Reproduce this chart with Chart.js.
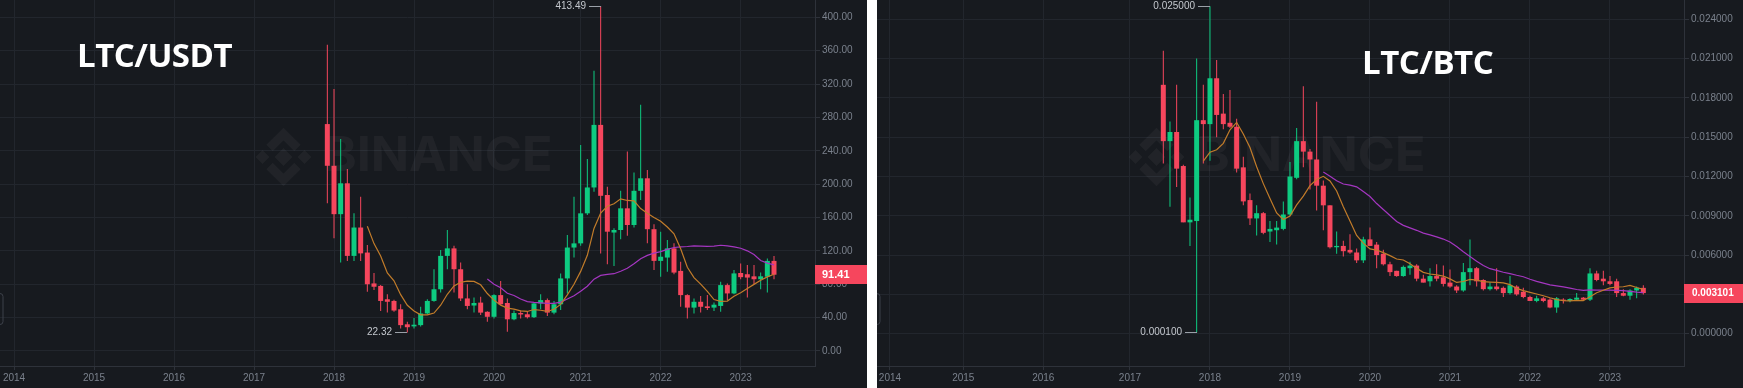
<!DOCTYPE html>
<html>
<head>
<meta charset="utf-8">
<script src="https://cdn.jsdelivr.net/npm/chart.js@4.4.0/dist/chart.umd.min.js"></script>
<style>
  body { margin: 0; background: #fff; width: 1743px; height: 388px; overflow: hidden; position: relative; }
  .panel { position: absolute; top: 0; height: 388px; background: #171a1f; }
  #p1 { left: 0; width: 867px; }
  #p2 { left: 877px; width: 866px; }
  .title { position: absolute; color: #fff; font: bold 33px "Open Sans", sans-serif; line-height: 33px; letter-spacing: -0.5px; white-space: nowrap; }
</style>
</head>
<body>
<div class="panel" id="p1"><canvas id="c1" width="867" height="388"></canvas></div>
<div class="panel" id="p2"><canvas id="c2" width="866" height="388"></canvas></div>
<div class="title" style="left:77px;top:38px">LTC/USDT</div>
<div class="title" style="left:1362px;top:45px">LTC/BTC</div>
<script>
'use strict';

// LTC/USDT monthly candles, Dec 2017 .. Jul 2023
const usdtStart = '2017-12';
const usdtOpen = [272,
  222, 164, 201, 114, 148, 118, 81, 78, 62, 60, 50, 32,
  29.5, 31, 45, 60, 74, 114, 123, 98, 63, 54.5, 58, 47,
  41, 67, 57.5, 38, 45.5, 44, 40.5, 57, 61, 46, 56, 87,
  124, 129, 165, 196, 271, 187, 142, 145, 171, 151, 192, 207,
  146, 108, 112, 123, 96, 67, 52, 59, 53.5, 52, 54, 79,
  69, 93.5, 92, 89.5, 86, 89, 108];
const usdtHigh = [367,
  314, 254, 218, 165, 185, 127, 93.5, 79, 68, 61.5, 56, 35,
  39.5, 53, 62, 98, 121, 145, 126, 106, 80, 64, 65, 47.5,
  68, 84, 63, 48.5, 48.5, 48, 58, 68, 63, 60, 93, 139,
  185, 247, 230, 336, 413.49, 197, 147, 192, 239, 214, 295, 217,
  152, 143, 133, 129, 107, 68, 63, 66, 67, 58, 83, 81,
  97, 105, 103, 103, 94, 111, 114];
const usdtLow = [177,
  135, 106, 108, 108, 108, 71, 73, 48, 46, 47, 27, 22.32,
  27, 29.5, 44, 59, 70, 98, 70, 60, 50, 46, 43, 35,
  39, 55, 23, 37, 39, 39, 39.5, 50, 42, 44, 49, 69,
  112, 126, 163, 191, 117, 104, 102, 134, 138, 148, 181, 129,
  97, 89, 95, 92, 53, 39, 45, 46, 49, 48, 47, 61,
  68, 86, 64, 80, 74, 70, 86];
const usdtClose = [222,
  164, 201, 114, 148, 117, 80, 77, 60, 59, 48.5, 31, 28.5,
  31.5, 45, 60, 74, 114, 123, 98, 63, 54, 57.5, 46, 41,
  67, 56, 38, 45.5, 43.8, 40.5, 57, 61, 46, 56, 87, 124,
  129, 165, 196, 271, 186, 143, 145, 171, 151, 192, 207, 146,
  108, 113, 123, 94, 67, 52, 59, 53, 51.5, 55.5, 79, 69,
  93, 88.5, 88, 86, 89.5, 108, 91.41];

// LTC/BTC monthly candles, Jul 2017 .. Jul 2023
const btcStart = '2017-07';
const btcOpen = [0.0190, 0.0147, 0.0154, 0.0128, 0.0085, 0.0086,
  0.0163, 0.0160, 0.0195, 0.0168, 0.0161, 0.0158, 0.0127, 0.0102, 0.0088, 0.0092, 0.0078, 0.0079,
  0.0080, 0.0091, 0.0119, 0.0147, 0.0139, 0.0133, 0.0113, 0.0098, 0.0066, 0.0067, 0.0064, 0.0062,
  0.0056, 0.0072, 0.0068, 0.0061, 0.0053, 0.0048, 0.0044, 0.0050, 0.0052, 0.0042, 0.0040, 0.0044,
  0.0043, 0.0039, 0.0036, 0.0033, 0.0047, 0.0050, 0.0041, 0.0034, 0.0036, 0.0035, 0.0031, 0.0036,
  0.0032, 0.0028, 0.0025, 0.0027, 0.0026, 0.0020, 0.0026, 0.0025, 0.0026, 0.00275, 0.0026, 0.0046,
  0.0042, 0.0040, 0.0040, 0.0031, 0.0029, 0.0033, 0.0035];
const btcHigh = [0.0216, 0.0162, 0.0190, 0.0129, 0.0104, 0.0210,
  0.0190, 0.0250, 0.0209, 0.0183, 0.0186, 0.0164, 0.0135, 0.0107, 0.0098, 0.0093, 0.0086, 0.0086,
  0.0101, 0.0131, 0.0157, 0.0189, 0.0141, 0.0177, 0.0117, 0.0098, 0.0078, 0.0071, 0.0076, 0.0065,
  0.0074, 0.0081, 0.0070, 0.0064, 0.0055, 0.0048, 0.0052, 0.0055, 0.0053, 0.0045, 0.0050, 0.0053,
  0.0052, 0.0049, 0.0037, 0.0054, 0.0072, 0.0051, 0.00415, 0.0039, 0.0050, 0.0036, 0.0044, 0.0037,
  0.0035, 0.0029, 0.0029, 0.0028, 0.0027, 0.0028, 0.0027, 0.0027, 0.0031, 0.0028, 0.0050, 0.0048,
  0.0048, 0.0044, 0.0042, 0.0034, 0.0034, 0.0036, 0.0037];
const btcLow = [0.0130, 0.0097, 0.0112, 0.0085, 0.0067, 0.0001,
  0.0130, 0.0132, 0.0150, 0.0156, 0.0157, 0.0123, 0.0098, 0.0083, 0.0075, 0.0076, 0.0070, 0.0068,
  0.0079, 0.0090, 0.0118, 0.0127, 0.0110, 0.0094, 0.0079, 0.0065, 0.0061, 0.0059, 0.0061, 0.0054,
  0.0054, 0.0067, 0.0050, 0.0052, 0.0044, 0.00435, 0.00435, 0.0045, 0.0040, 0.0039, 0.0036, 0.0040,
  0.0036, 0.0035, 0.0031, 0.0032, 0.0037, 0.0036, 0.0033, 0.0033, 0.0033, 0.0028, 0.0030, 0.0029,
  0.0027, 0.0025, 0.0024, 0.0024, 0.00195, 0.0016, 0.0023, 0.0024, 0.0025, 0.0025, 0.0025, 0.0040,
  0.0037, 0.0037, 0.0028, 0.00285, 0.0026, 0.0027, 0.0030];
const btcClose = [0.0147, 0.0154, 0.0126, 0.0085, 0.0087, 0.0163,
  0.0160, 0.0195, 0.0167, 0.0160, 0.0158, 0.0126, 0.0101, 0.0088, 0.0092, 0.0077, 0.0080, 0.0081,
  0.0091, 0.0120, 0.0147, 0.0139, 0.0133, 0.0113, 0.0098, 0.0066, 0.0067, 0.0063, 0.0062, 0.0056,
  0.0072, 0.0067, 0.0060, 0.0053, 0.0047, 0.0044, 0.0051, 0.0052, 0.0042, 0.0039, 0.0044, 0.0042,
  0.0038, 0.0036, 0.0033, 0.0047, 0.0050, 0.0040, 0.0034, 0.0036, 0.0034, 0.0031, 0.0037, 0.0030,
  0.0028, 0.0025, 0.0027, 0.0025, 0.0020, 0.0027, 0.0025, 0.00265, 0.00275, 0.0026, 0.0046, 0.0041,
  0.0040, 0.0038, 0.0031, 0.0029, 0.0033, 0.0035, 0.003101];

// axis labels
const years = ['2014', '2015', '2016', '2017', '2018', '2019', '2020', '2021', '2022', '2023'];
// month each year label sits on in the screenshot
const usdtYearTicks = ['2014-01', '2015-01', '2016-01', '2017-01', '2018-01', '2019-01', '2020-01', '2021-02', '2022-02', '2023-02'];
const btcYearTicks = ['2014-02', '2015-01', '2016-01', '2017-02', '2018-02', '2019-02', '2020-02', '2021-02', '2022-02', '2023-02'];
const usdtPriceTicks = [0, 40, 80, 120, 160, 200, 240, 280, 320, 360, 400];
const btcPriceTicks = [0, 0.003, 0.006, 0.009, 0.012, 0.015, 0.018, 0.021, 0.024];

const UP = '#0ecb81';
const DOWN = '#f6465d';
const GRID = '#22262d';
const AXIS = '#2e323a';
const LABEL = '#7a818c';
const FONT = '"Liberation Sans", Arial, sans-serif';

function monthIndex(s) {
  const [y, m] = s.split('-').map(Number);
  return (y - 2014) * 12 + (m - 1);
}

// simple moving average of closes (what the MA(7) / MA(25) lines show)
function sma(values, n) {
  const out = [];
  for (let i = n - 1; i < values.length; i++) {
    let s = 0;
    for (let j = i - n + 1; j <= i; j++) s += values[j];
    out.push({ i, v: s / n });
  }
  return out;
}

function drawLogo(ctx, cx, cy) {
  // rough binance mark: centre diamond, side diamonds, top/bottom chevrons
  const dia = (x, y, r) => {
    ctx.beginPath();
    ctx.moveTo(x, y - r); ctx.lineTo(x + r, y); ctx.lineTo(x, y + r); ctx.lineTo(x - r, y);
    ctx.closePath(); ctx.fill();
  };
  dia(cx, cy, 9);
  dia(cx - 21, cy, 7);
  dia(cx + 21, cy, 7);
  ctx.lineWidth = 9;
  ctx.lineJoin = 'miter';
  ctx.beginPath();
  ctx.moveTo(cx - 14, cy - 9); ctx.lineTo(cx, cy - 23); ctx.lineTo(cx + 14, cy - 9);
  ctx.stroke();
  ctx.beginPath();
  ctx.moveTo(cx - 14, cy + 9); ctx.lineTo(cx, cy + 23); ctx.lineTo(cx + 14, cy + 9);
  ctx.stroke();
}

function buildChart(canvasId, cfg) {
  const x0 = monthIndex(cfg.start);
  const colors = cfg.open.map((o, i) => cfg.close[i] >= o ? UP : DOWN);
  const wicks = cfg.open.map((_, i) => ({ x: x0 + i, y: [cfg.low[i], cfg.high[i]] }));
  const bodies = cfg.open.map((o, i) => ({ x: x0 + i, y: [o, cfg.close[i]] }));
  const ma7 = sma(cfg.close, 7).map(p => ({ x: x0 + p.i, y: p.v }));
  const ma25 = sma(cfg.close, 25).map(p => ({ x: x0 + p.i, y: p.v }));
  const tickVals = cfg.yearTicks.map(monthIndex);

  const decor = {
    id: 'decor',
    beforeDatasetsDraw(chart) {
      const { ctx, chartArea: a } = chart;
      ctx.save();
      ctx.fillStyle = 'rgba(255,255,255,0.045)';
      ctx.strokeStyle = 'rgba(255,255,255,0.045)';
      const cx = a.left + a.width / 2 - 4;
      const cy = a.top + 157;
      drawLogo(ctx, cx - 120, cy);
      ctx.font = 'bold 48px Inter, sans-serif';
      ctx.textBaseline = 'middle';
      const w = ctx.measureText('BINANCE').width;
      ctx.translate(cx - 80, cy);
      ctx.scale(229 / w, 1);
      ctx.fillText('BINANCE', 0, 0);
      ctx.restore();
    },
    afterDraw(chart) {
      const { ctx, scales: { x, y } } = chart;
      ctx.save();
      // highest high / lowest low markers
      const hi = Math.max(...cfg.high), lo = Math.min(...cfg.low);
      const marks = [[cfg.high.indexOf(hi), hi], [cfg.low.indexOf(lo), lo]];
      ctx.font = '10px ' + FONT;
      ctx.textAlign = 'right';
      ctx.textBaseline = 'middle';
      marks.forEach(([i, v]) => {
        const px = Math.round(x.getPixelForValue(x0 + i));
        const py = Math.round(y.getPixelForValue(v)) + 0.5;
        ctx.strokeStyle = '#9aa0a8';
        ctx.lineWidth = 1;
        ctx.beginPath(); ctx.moveTo(px - 12, py); ctx.lineTo(px, py); ctx.stroke();
        ctx.fillStyle = '#c4c8ce';
        ctx.fillText(v.toFixed(cfg.dec), px - 15, Math.max(py, 5));
      });
      // last price tag on the axis
      const last = cfg.close.length - 1;
      const ly = y.getPixelForValue(cfg.close[last]);
      ctx.fillStyle = colors[last];
      ctx.fillRect(y.left, Math.round(ly - 9.5), chart.width - y.left, 19);
      ctx.fillStyle = '#fff';
      ctx.textAlign = 'left';
      ctx.font = 'bold ' + cfg.tagSize + 'px ' + FONT;
      ctx.fillText(cfg.close[last].toFixed(cfg.dec), y.left + cfg.tagPad, ly + 0.5);
      // collapsed side-panel handle
      ctx.strokeStyle = '#3c414a';
      ctx.beginPath();
      ctx.roundRect(-4, 293.5, 7, 31, 3);
      ctx.stroke();
      ctx.restore();
    }
  };

  return new Chart(document.getElementById(canvasId), {
    type: 'bar',
    data: {
      datasets: [
        { type: 'line', data: ma7, borderColor: '#c27c2a', borderWidth: 1.2, pointRadius: 0, tension: 0, order: 0 },
        { type: 'line', data: ma25, borderColor: '#a436c0', borderWidth: 1.2, pointRadius: 0, tension: 0, order: 0 },
        { data: bodies, backgroundColor: colors, barThickness: 5, minBarLength: 1, grouped: false, inflateAmount: 0, borderWidth: 0, order: 1 },
        { data: wicks, backgroundColor: colors, barThickness: 1, grouped: false, inflateAmount: 0, borderWidth: 0, order: 2 }
      ]
    },
    options: {
      responsive: false,
      animation: false,
      events: [],
      layout: { padding: 0 },
      plugins: { legend: { display: false }, tooltip: { enabled: false } },
      scales: {
        x: {
          type: 'linear', min: cfg.xMin, max: cfg.xMax, offset: false,
          grid: { color: GRID, tickColor: AXIS, tickLength: 4, offset: false },
          border: { color: AXIS },
          afterBuildTicks: s => { s.ticks = tickVals.map(v => ({ value: v })); },
          ticks: {
            autoSkip: false, maxRotation: 0, padding: 2, color: LABEL,
            font: { family: FONT, size: 10 },
            callback: (v) => years[tickVals.indexOf(v)]
          },
          afterFit: s => { s.height = 22; s.paddingLeft = 0; s.paddingRight = 0; }
        },
        y: {
          type: 'linear', position: 'right', min: cfg.yMin, max: cfg.yMax,
          grid: { color: GRID, tickColor: AXIS, tickLength: 5 },
          border: { color: AXIS },
          afterBuildTicks: s => { s.ticks = cfg.yTicks.map(v => ({ value: v })); },
          ticks: {
            padding: 2, color: LABEL,
            font: { family: FONT, size: 10 },
            callback: v => v.toFixed(cfg.dec)
          },
          afterFit: s => { s.width = cfg.axisWidth; s.paddingTop = 0; s.paddingBottom = 0; }
        }
      }
    },
    plugins: [decor]
  });
}

buildChart('c1', {
  start: usdtStart, open: usdtOpen, high: usdtHigh, low: usdtLow, close: usdtClose,
  yearTicks: usdtYearTicks, yTicks: usdtPriceTicks, dec: 2,
  xMin: -2.1, xMax: 120.15, yMin: -17.98, yMax: 420.7,
  axisWidth: 52, tagSize: 11, tagPad: 7
});

buildChart('c2', {
  start: btcStart, open: btcOpen, high: btcHigh, low: btcLow, close: btcClose,
  yearTicks: btcYearTicks, yTicks: btcPriceTicks, dec: 6,
  xMin: -0.945, xMax: 120.1, yMin: -0.002466, yMax: 0.025475,
  axisWidth: 59, tagSize: 10, tagPad: 8
});
</script>
</body>
</html>
